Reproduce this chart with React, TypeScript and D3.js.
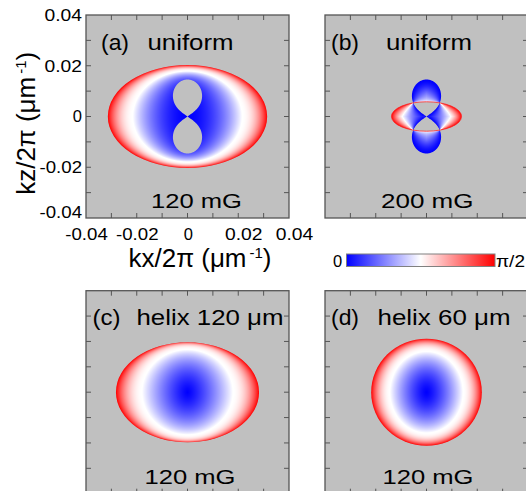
import React, { useMemo } from 'react';
import * as d3 from 'd3';

// ---------- data ----------
const kDomain = [-0.04, 0.04];
const tickValues = [-0.03, -0.02, -0.01, 0, 0.01, 0.02, 0.03];
const labelValues = [-0.04, -0.02, 0, 0.02, 0.04];
const panelLetters = ['(a)', '(b)', '(c)', '(d)'];
const panelTitles = ['uniform', 'uniform', 'helix 120 μm', 'helix 60 μm'];
const fieldLabels = ['120 mG', '200 mG', '120 mG', '120 mG'];
// semi-axes of the outer (θ = π/2) boundary, in μm^-1
const ellipseKx = [0.0314, 0.0138, 0.0282, 0.0218];
const ellipseKz = [0.0203, 0.0058, 0.0197, 0.0211];
// contour level u: kx semi-axis = a·u^powX; kz semi-axis = b·u^powZ (a) or kx semi-axis · aspect(u)
const powX = [0.543, 0.667, 0.655, 0.6];
const powZ = [0.185, 0.667, 0, 0];
const centreAspect = [0, 0, 1.35, 1.45];
const aspectExp = [0, 0, 0.65, 0.52];
// shaping of θ inside / outside the white contour (u = 0.5)
const innerPow = [1.0, 1.0, 0.8, 0.8];
const outerPow = [1.8, 1.8, 1.8, 1.8];
const lobeModes = ['hole', 'xor', 'none', 'none'];
const lobeLength = 0.01458;
const lobeHalfWidth = 0.00575;
const lobePinchDeg = 60;
const lobeExponent = 0.45;
const angleDomain = [0, Math.PI / 4, Math.PI / 2];
const angleColors = ['#0000ff', '#ffffff', '#ff0000'];
const colorbarLabels = ['0', 'π/2'];

// ---------- layout ----------
const W = 526;
const H = 491;
const PANEL = 203;
const panelLeft = [86, 325, 86, 325];
const panelTop = [15, 15, 290.7, 290.7];
const FONT = 'Liberation Sans, Arial, Helvetica, sans-serif';
const FRAME = '#555555';
const BG = '#c0c0c0';

const letterPos = [[101, 50], [331, 50], [92.5, 325], [331, 325]];
const titlePos = [[147.5, 50, 86], [386, 50, 86], [136.5, 325, 147], [377.5, 325, 133]];
const fieldPos = [[151, 207.5, 91], [381, 207.5, 92.5], [144.5, 484, 91], [382.5, 484, 91]];

const color = d3
  .scaleLinear<string>()
  .domain(angleDomain)
  .range(angleColors)
  .interpolate(d3.interpolateRgb)
  .clamp(true);

function semiAxes(i: number, u: number): [number, number] {
  const a = ellipseKx[i];
  const b = ellipseKz[i];
  const xh = a * Math.pow(u, powX[i]);
  if (centreAspect[i] > 0) {
    const r1 = b / a;
    const r = centreAspect[i] + (r1 - centreAspect[i]) * Math.pow(u, aspectExp[i]);
    return [xh, xh * r];
  }
  return [xh, b * Math.pow(u, powZ[i])];
}

function solveU(i: number, x: number, z: number) {
  const a = ellipseKx[i];
  const b = ellipseKz[i];
  if ((x / a) ** 2 + (z / b) ** 2 >= 1) return 1;
  if (x === 0 && z === 0) return 0;
  let lo = 0;
  let hi = 1;
  for (let k = 0; k < 40; k++) {
    const m = (lo + hi) / 2;
    const [xh, zh] = semiAxes(i, m);
    const f = (x / xh) ** 2 + (z / zh) ** 2;
    if (f > 1) lo = m;
    else hi = m;
  }
  return (lo + hi) / 2;
}

function shape(u: number, pin: number, pout: number) {
  if (u <= 0.5) return 0.5 * Math.pow(u / 0.5, pin);
  return 0.5 + 0.5 * Math.pow((u - 0.5) / 0.5, pout);
}

const PHI0 = (lobePinchDeg * Math.PI) / 180;
const KL = Math.PI / 2 / PHI0;
const lobeR = (p: number) => lobeLength * Math.pow(Math.max(0, Math.cos(KL * p)), lobeExponent);
const lobeStretch = (() => {
  let m = 0;
  for (let i = 0; i <= 2000; i++) {
    const p = (i / 2000) * PHI0;
    m = Math.max(m, lobeR(p) * Math.sin(p));
  }
  return lobeHalfWidth / m;
})();

function inLobes(x: number, z: number) {
  const X = Math.abs(x / lobeStretch);
  const Z = Math.abs(z);
  const r = Math.sqrt(X * X + Z * Z);
  if (r === 0) return false;
  const p = Math.atan2(X, Z);
  if (p >= PHI0) return false;
  return r < lobeR(p);
}

function lobePoints(n: number) {
  const pts: [number, number][] = [];
  for (let i = 0; i <= n; i++) {
    const p = -PHI0 + (i / n) * 2 * PHI0;
    const r = lobeR(p);
    pts.push([lobeStretch * r * Math.sin(p), r * Math.cos(p)]);
  }
  for (let i = 0; i <= n; i++) {
    const p = PHI0 - (i / n) * 2 * PHI0;
    const r = lobeR(p);
    pts.push([lobeStretch * r * Math.sin(p), -r * Math.cos(p)]);
  }
  return pts;
}

function ellipsePoints(a: number, b: number, n: number) {
  const pts: [number, number][] = [];
  for (let i = 0; i <= n; i++) {
    const t = (i / n) * 2 * Math.PI;
    pts.push([a * Math.cos(t), b * Math.sin(t)]);
  }
  return pts;
}

function minDist(px: number, py: number, pts: [number, number][]) {
  let m = Infinity;
  for (let i = 0; i < pts.length; i++) {
    const dx = pts[i][0] - px;
    const dy = pts[i][1] - py;
    const d = dx * dx + dy * dy;
    if (d < m) m = d;
  }
  return Math.sqrt(m);
}

type Cell = { x: number; y: number; w: number; fill: string };

function buildPanel(i: number) {
  const left = panelLeft[i];
  const top = panelTop[i];
  const xs = d3.scaleLinear().domain(kDomain).range([left, left + PANEL]);
  const ys = d3.scaleLinear().domain(kDomain).range([top + PANEL, top]);
  const a = ellipseKx[i];
  const b = ellipseKz[i];
  const mode = lobeModes[i];
  const pxPerUnit = PANEL / (kDomain[1] - kDomain[0]);

  const lob = lobePoints(300);
  const ell = ellipsePoints(a, b, 360);
  const lobPx = lob.map(([x, z]) => [xs(x), ys(z)] as [number, number]);
  const ellPx = ell.map(([x, z]) => [xs(x), ys(z)] as [number, number]);

  const maxX = mode === 'xor' ? Math.max(a, lobeHalfWidth) : a;
  const maxZ = mode === 'xor' ? Math.max(b, lobeLength) : b;
  const m = 3 / pxPerUnit;
  const x0 = Math.floor(xs(-maxX - m));
  const x1 = Math.ceil(xs(maxX + m));
  const y0 = Math.floor(ys(maxZ + m));
  const y1 = Math.ceil(ys(-maxZ - m));

  const cells: Cell[] = [];
  for (let py = y0; py < y1; py++) {
    let run: Cell | null = null;
    for (let px = x0; px < x1; px++) {
      const cx = px + 0.5;
      const cy = py + 0.5;
      const kx = xs.invert(cx);
      const kz = ys.invert(cy);
      let fill: string | null = null;
      if (mode === 'xor') {
        const inE = (kx / a) ** 2 + (kz / b) ** 2 < 1;
        const inL = inLobes(kx, kz);
        const dE = minDist(cx, cy, ellPx);
        const dL = minDist(cx, cy, lobPx);
        const xor = inE !== inL;
        if (xor || Math.min(dE, dL) < 2) {
          let petal: boolean;
          if (xor) petal = inE;
          else if (dE < dL) petal = !inL;
          else petal = inE;
          const f = dL / (dL + dE + 1e-9);
          const t = petal ? Math.pow(f, 1.5) : 0.5 * Math.pow(f, 1.6);
          fill = color(t * (Math.PI / 2));
        }
      } else {
        const rho = Math.sqrt((kx / a) ** 2 + (kz / b) ** 2);
        if (rho < 1 + 2.5 / (b * pxPerUnit)) {
          const u = solveU(i, kx, kz);
          const t = shape(u, innerPow[i], outerPow[i]);
          fill = color(t * (Math.PI / 2));
        }
      }
      if (fill) {
        if (run && run.fill === fill && run.x + run.w === px) run.w += 1;
        else {
          if (run) cells.push(run);
          run = { x: px, y: py, w: 1, fill };
        }
      } else if (run) {
        cells.push(run);
        run = null;
      }
    }
    if (run) cells.push(run);
  }

  const cxp = xs(0);
  const cyp = ys(0);
  const rx = a * pxPerUnit;
  const ry = b * pxPerUnit;
  const ellPath = `M${cxp - rx},${cyp}A${rx},${ry} 0 1,0 ${cxp + rx},${cyp}A${rx},${ry} 0 1,0 ${cxp - rx},${cyp}Z`;
  const lobPath = (d3.line() as any)(lobPx) + 'Z';
  const clip = mode === 'none' ? ellPath : ellPath + lobPath;
  return { xs, ys, cells, clip, ellPath, left, top, mode };
}

function AxisTitle({ x, y, rotate, z }: { x: number; y: number; rotate?: boolean; z: string }) {
  return (
    <text
      x={rotate ? 0 : x}
      y={rotate ? 0 : y}
      transform={rotate ? `translate(${x},${y}) rotate(-90)` : undefined}
      textAnchor={rotate ? 'middle' : 'start'}
      fontSize={26}
      fontFamily={FONT}
      textLength={143}
      lengthAdjust="spacingAndGlyphs"
      fill="#000"
    >
      {`k${z}/2π (μm`}
      <tspan dx={3} dy={-9} fontSize={15}>
        -1
      </tspan>
      <tspan dy={9}>)</tspan>
    </text>
  );
}

export default function App() {
  const panels = useMemo(() => [0, 1, 2, 3].map(buildPanel), []);
  const pa = panels[0];

  return (
    <svg
      width={W}
      height={H}
      viewBox={`0 0 ${W} ${H}`}
      style={{ position: 'absolute', left: 0, top: 0, background: '#fff' }}
    >
      <defs>
        {panels.map((p, i) => (
          <clipPath id={`clip-${i}`} key={i}>
            <path d={p.clip} clipRule="evenodd" />
          </clipPath>
        ))}
        <linearGradient id="cbar" x1="0" x2="1" y1="0" y2="0">
          {angleDomain.map((v, j) => (
            <stop key={j} offset={v / (Math.PI / 2)} stopColor={angleColors[j]} />
          ))}
        </linearGradient>
      </defs>

      {panels.map((p, i) => (
        <g key={i}>
          <rect x={p.left} y={p.top} width={PANEL} height={PANEL} fill={BG} />
          <g clipPath={`url(#clip-${i})`} shapeRendering="crispEdges">
            {p.cells.map((c, j) => (
              <rect key={j} x={c.x} y={c.y} width={c.w} height={1} fill={c.fill} />
            ))}
          </g>
          {p.mode === 'xor' && (
            <path d={p.ellPath} fill="none" stroke="#ff2020" strokeWidth={0.9} strokeOpacity={0.85} />
          )}
          {tickValues.map((v) => (
            <g key={v} stroke={FRAME} strokeWidth={1}>
              <line x1={p.xs(v)} x2={p.xs(v)} y1={p.top + PANEL} y2={p.top + PANEL - 5} />
              <line x1={p.xs(v)} x2={p.xs(v)} y1={p.top} y2={p.top + 5} />
              <line x1={p.left} x2={p.left + 5} y1={p.ys(v)} y2={p.ys(v)} />
              <line x1={p.left + PANEL} x2={p.left + PANEL - 5} y1={p.ys(v)} y2={p.ys(v)} />
            </g>
          ))}
          <rect
            x={p.left}
            y={p.top}
            width={PANEL}
            height={PANEL}
            fill="none"
            stroke={FRAME}
            strokeWidth={1.3}
          />
          <text x={letterPos[i][0]} y={letterPos[i][1]} fontSize={21.5} fontFamily={FONT} textLength={28} lengthAdjust="spacingAndGlyphs">
            {panelLetters[i]}
          </text>
          <text x={titlePos[i][0]} y={titlePos[i][1]} fontSize={21.5} fontFamily={FONT} textLength={titlePos[i][2]} lengthAdjust="spacingAndGlyphs">
            {panelTitles[i]}
          </text>
          <text x={fieldPos[i][0]} y={fieldPos[i][1]} fontSize={21} fontFamily={FONT} textLength={fieldPos[i][2]} lengthAdjust="spacingAndGlyphs">
            {fieldLabels[i]}
          </text>
        </g>
      ))}

      {/* tick labels of panel (a) */}
      {labelValues.map((v) => {
        const s = v === 0 ? '0' : v.toFixed(2);
        const len = v === 0 ? undefined : v < 0 ? 42.5 : 37.5;
        return (
          <g key={v} fontSize={16.5} fontFamily={FONT}>
            <text
              x={82}
              y={v === -0.04 ? pa.ys(v) : pa.ys(v) + 5.8}
              textAnchor="end"
              textLength={len}
              lengthAdjust="spacingAndGlyphs"
            >
              {s}
            </text>
            <text
              x={pa.xs(v) + (v > 0 ? 5.5 : v < 0 ? 0.5 : 0.8)}
              y={239.5}
              textAnchor="middle"
              textLength={len}
              lengthAdjust="spacingAndGlyphs"
            >
              {s}
            </text>
          </g>
        );
      })}

      <AxisTitle x={128.5} y={266.7} z="x" />
      <AxisTitle x={35} y={123.3} rotate z="z" />

      {/* colour bar */}
      <rect x={346.5} y={254} width={148.5} height={12.5} fill="url(#cbar)" stroke="#808080" strokeWidth={1} />
      <text x={333} y={266.5} fontSize={16.5} fontFamily={FONT}>
        {colorbarLabels[0]}
      </text>
      <text x={496} y={266.5} fontSize={17} fontFamily={FONT} textLength={29} lengthAdjust="spacingAndGlyphs">
        {colorbarLabels[1]}
      </text>
    </svg>
  );
}
